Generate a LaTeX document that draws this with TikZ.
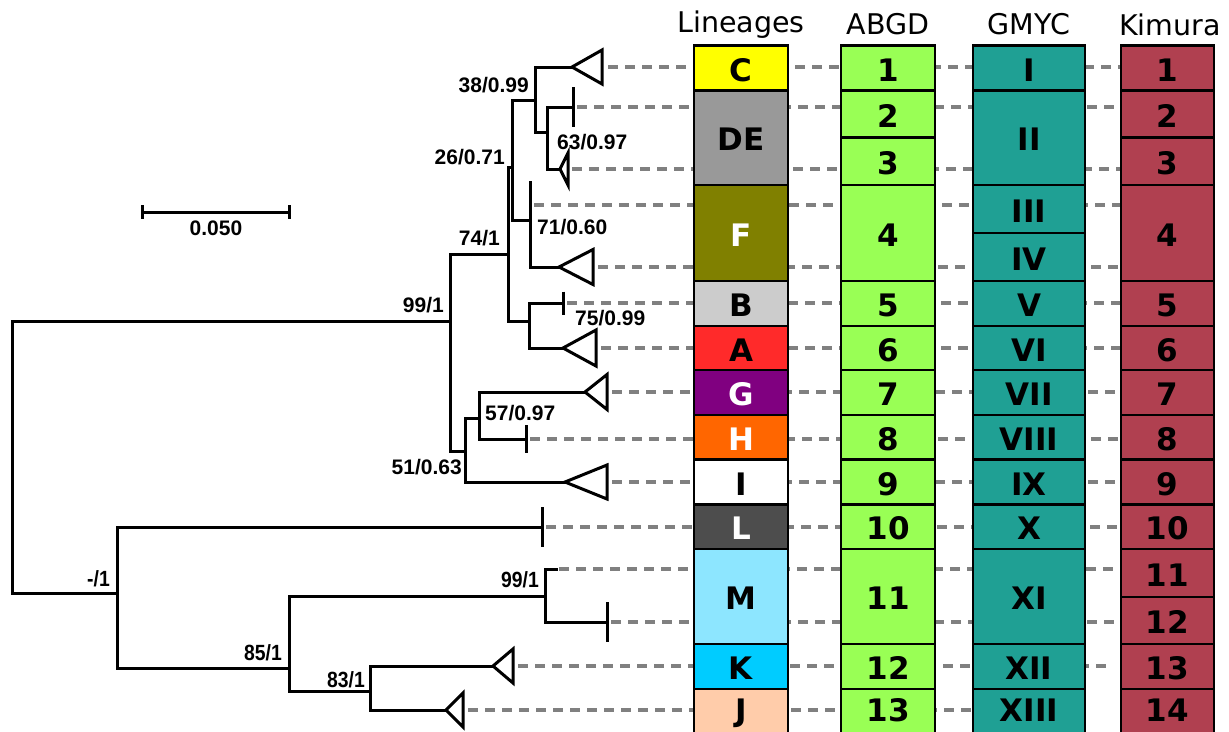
\documentclass[tikz,border=0pt]{standalone}
\usepackage{fontspec}
\setmainfont{DejaVu Sans}
\newfontfamily\arl{Liberation Sans}
\definecolor{cC}{HTML}{FFFF00}
\definecolor{cDE}{HTML}{999999}
\definecolor{cF}{HTML}{808000}
\definecolor{cB}{HTML}{CCCCCC}
\definecolor{cA}{HTML}{FF2A2A}
\definecolor{cG}{HTML}{800080}
\definecolor{cH}{HTML}{FF6600}
\definecolor{cI}{HTML}{FFFFFF}
\definecolor{cL}{HTML}{4D4D4D}
\definecolor{cM}{HTML}{8DE6FF}
\definecolor{cK}{HTML}{00CCFF}
\definecolor{cJ}{HTML}{FFCCAA}
\definecolor{cAB}{HTML}{99FF55}
\definecolor{cGM}{HTML}{1FA094}
\definecolor{cKi}{HTML}{B04050}
\definecolor{dashgray}{HTML}{808080}
\tikzset{
 br/.style={line width=3pt, line cap=rect, line join=miter},
 tk/.style={line width=3pt},
 tri/.style={line width=3pt, line join=miter},
 dsh/.style={draw=dashgray, line width=4pt, dash pattern=on 10pt off 7pt},
 cell/.style={draw=black, line width=2.5pt, inner sep=0pt, text height=26pt, text depth=0pt, font=\fontsize{31}{31}\selectfont\bfseries},
 lastrow/.style={text depth=10pt},
 hdr/.style={anchor=base, inner sep=0pt, font=\fontsize{28.5}{29}\selectfont},
 bs/.style={inner sep=0pt, font=\arl\bfseries\fontsize{21}{21}\selectfont},
 bsn/.style={inner sep=0pt, font=\arl\bfseries\fontsize{22}{22}\selectfont},
}
\newcommand\mkcell[8]{\node[cell, fill=#6, text=#7, minimum width=#3pt, minimum height={#5-#4}] (#1) at (#2,{(#4+#5)/2}) {#8};}
\newcommand\leaftri[3]{\draw[tri] (#1) -- ++(#2,#3) -- ++(0,{-2*#3}) -- cycle;}
\begin{document}
\begin{tikzpicture}[x=1pt,y=-1pt]
\useasboundingbox (0,0) rectangle (1229,731);
% tree coordinates
\coordinate (root) at (12,457);
\coordinate (N99) at (450,321);
\coordinate (N74) at (508,254);
\coordinate (N26) at (512,167);
\coordinate (N38) at (535,100);
\coordinate (C) at (572,67);
\coordinate (N63) at (547,132);
\coordinate (DE1) at (573,107);
\coordinate (DE2) at (560,169);
\coordinate (N71) at (530,220);
\coordinate (F1) at (530,205);
\coordinate (F2) at (559,267);
\coordinate (N75) at (529,321);
\coordinate (B) at (563,303);
\coordinate (A) at (563,348);
\coordinate (N51) at (465,451);
\coordinate (N57) at (479,418);
\coordinate (G) at (585,392);
\coordinate (H) at (526,439);
\coordinate (I) at (565,482);
\coordinate (N1) at (117,593);
\coordinate (L) at (542,527);
\coordinate (N85) at (289,668);
\coordinate (N99b) at (545,596);
\coordinate (M1) at (556,569);
\coordinate (M2) at (607,622);
\coordinate (N83) at (370,691);
\coordinate (K) at (493,666);
\coordinate (J) at (446,710);
\coordinate (kim) at (1121,0);
\coordinate (kimK) at (1112,0);
\coordinate (gmy) at (973,0);
% dashed guide lines
\draw[dsh] ([xshift=36pt]C) -- (C -| kim);
\draw[dsh] ([xshift=4pt]DE1) -- (DE1 -| kim);
\draw[dsh] ([xshift=12pt]DE2) -- (DE2 -| kim);
\draw[dsh] ([xshift=4pt]F1) -- (F1 -| kim);
\draw[dsh] ([xshift=39pt]F2) -- (F2 -| kim);
\draw[dsh] ([xshift=4pt]B) -- (B -| kim);
\draw[dsh] ([xshift=38pt]A) -- (A -| kim);
\draw[dsh] ([xshift=27pt]G) -- (G -| kim);
\draw[dsh] ([xshift=4pt]H) -- (H -| kim);
\draw[dsh] ([xshift=47pt]I) -- (I -| kim);
\draw[dsh] ([xshift=4pt]L) -- (L -| kim);
\draw[dsh] ([xshift=3pt]M1) -- (M1 -| kim);
\draw[dsh] ([xshift=4pt]M2) -- (M2 -| kim);
\draw[dsh] ([xshift=25pt]K) -- (K -| kimK);
\draw[dsh] ([xshift=22pt]J) -- (J -| gmy);
% tree edges
\draw[br] (root) |- (N99);
\draw[br] (root) |- (N1);
\draw[br] (N99) |- (N74);
\draw[br] (N99) |- (N51);
\draw[br] (N74) |- (N26);
\draw[br] (N74) |- (N75);
\draw[br] (N26) |- (N38);
\draw[br] (N26) |- (N71);
\draw[br] (N38) |- (C);
\draw[br] (N38) |- (N63);
\draw[br] (N63) |- (DE1);
\draw[br] (N63) |- (DE2);
\draw[br] (N71) |- (F2);
\draw[br] (N75) |- (B);
\draw[br] (N75) |- (A);
\draw[br] (N51) |- (N57);
\draw[br] (N51) |- (I);
\draw[br] (N57) |- (G);
\draw[br] (N57) |- (H);
\draw[br] (N1) |- (L);
\draw[br] (N1) |- (N85);
\draw[br] (N85) |- (N99b);
\draw[br] (N85) |- (N83);
\draw[br] (N99b) |- (M1);
\draw[br] (N99b) |- (M2);
\draw[br] (N83) |- (K);
\draw[br] (N83) |- (J);
% leaf ticks
\draw[tk] ([yshift=20pt]DE1) -- ([yshift=-20pt]DE1);
\draw[tk] ([yshift=24pt]F1) -- ([yshift=-24pt]F1);
\draw[tk] ([yshift=11.5pt]B) -- ([yshift=-11.5pt]B);
\draw[tk] ([yshift=14pt]H) -- ([yshift=-14pt]H);
\draw[tk] ([yshift=20pt]L) -- ([yshift=-20pt]L);
\draw[tk] ([yshift=20pt]M2) -- ([yshift=-20pt]M2);
% collapsed clades
\leaftri{C}{30}{17}
\leaftri{DE2}{8}{16}
\leaftri{F2}{34}{17.5}
\leaftri{A}{33}{18}
\leaftri{G}{22}{17.5}
\leaftri{I}{42}{17}
\leaftri{K}{20}{17}
\leaftri{J}{17}{17}
% support labels
\node[bs, anchor=base east] (l38) at (529,92) {38/0.99};
\node[bs, anchor=base east] (l26) at (505,164.5) {26/0.71};
\node[bs, anchor=base east] (l74) at (500,245.5) {74/1};
\node[bs, anchor=base east] (l99) at (444,312.5) {99/1};
\node[bs, anchor=base west] (l63) at (557,149.5) {63/0.97};
\node[bs, anchor=base west] (l71) at (537,234.5) {71/0.60};
\node[bs, anchor=base west] (l75) at (575,325.5) {75/0.99};
\node[bs, anchor=base west] (l57) at (485,420.5) {57/0.97};
\node[bs, anchor=base east] (l51) at (462,474.5) {51/0.63};
\node[bsn, anchor=base east] (lm1) at (110,586) {\scalebox{0.88}[1]{-/1}};
\node[bsn, anchor=base east] (l99b) at (539,587) {\scalebox{0.88}[1]{99/1}};
\node[bsn, anchor=base east] (l85) at (282,660) {\scalebox{0.88}[1]{85/1}};
\node[bsn, anchor=base east] (l83) at (365,687) {\scalebox{0.88}[1]{83/1}};
% scale bar
\coordinate (s1) at (142,212);
\coordinate (s2) at (289,212);
\draw[tk] (s1) -- (s2);
\draw[tk] ([yshift=7pt]s1) -- ([yshift=-7pt]s1);
\draw[tk] ([yshift=7pt]s2) -- ([yshift=-7pt]s2);
\node[bs, anchor=base] (sl) at (216,235) {0.050};
% headers
\node[hdr] (hLin) at (741,32) {Lineages};
\node[hdr] (hAB) at (888,34) {ABGD};
\node[hdr] (hGM) at (1029,34) {GMYC};
\node[hdr] (hKi) at (1170,35) {Kimura};
% Lineages column
\mkcell{lC}{741}{94}{45.5}{90.5}{cC}{black}{C}
\mkcell{lDE}{741}{94}{90.5}{185}{cDE}{black}{DE}
\mkcell{lF}{741}{94}{185}{281}{cF}{white}{F}
\mkcell{lB}{741}{94}{281}{326}{cB}{black}{B}
\mkcell{lA}{741}{94}{326}{370}{cA}{black}{A}
\mkcell{lG}{741}{94}{370}{415}{cG}{white}{G}
\mkcell{lH}{741}{94}{415}{459.5}{cH}{white}{H}
\mkcell{lI}{741}{94}{459.5}{504.5}{cI}{black}{I}
\mkcell{lL}{741}{94}{504.5}{549}{cL}{white}{L}
\mkcell{lM}{741}{94}{549}{644}{cM}{black}{M}
\mkcell{lK}{741}{94}{644}{689}{cK}{black}{K}
\mkcell{lJ}{741}{94}{689}{738}{cJ, lastrow}{black}{J}
% ABGD column
\mkcell{a1}{888}{94}{45.5}{90.5}{cAB}{black}{1}
\mkcell{a2}{888}{94}{90.5}{137.7}{cAB}{black}{2}
\mkcell{a3}{888}{94}{137.7}{185}{cAB}{black}{3}
\mkcell{a4}{888}{94}{185}{281}{cAB}{black}{4}
\mkcell{a5}{888}{94}{281}{326}{cAB}{black}{5}
\mkcell{a6}{888}{94}{326}{370}{cAB}{black}{6}
\mkcell{a7}{888}{94}{370}{415}{cAB}{black}{7}
\mkcell{a8}{888}{94}{415}{459.5}{cAB}{black}{8}
\mkcell{a9}{888}{94}{459.5}{504.5}{cAB}{black}{9}
\mkcell{a10}{888}{94}{504.5}{549}{cAB}{black}{10}
\mkcell{a11}{888}{94}{549}{644}{cAB}{black}{11}
\mkcell{a12}{888}{94}{644}{689}{cAB}{black}{12}
\mkcell{a13}{888}{94}{689}{738}{cAB, lastrow}{black}{13}
% GMYC column
\mkcell{g1}{1029}{112}{45.5}{90.5}{cGM}{black}{I}
\mkcell{g2}{1029}{112}{90.5}{185}{cGM}{black}{II}
\mkcell{g3}{1029}{112}{185}{233}{cGM}{black}{III}
\mkcell{g4}{1029}{112}{233}{281}{cGM}{black}{IV}
\mkcell{g5}{1029}{112}{281}{326}{cGM}{black}{V}
\mkcell{g6}{1029}{112}{326}{370}{cGM}{black}{VI}
\mkcell{g7}{1029}{112}{370}{415}{cGM}{black}{VII}
\mkcell{g8}{1029}{112}{415}{459.5}{cGM}{black}{VIII}
\mkcell{g9}{1029}{112}{459.5}{504.5}{cGM}{black}{IX}
\mkcell{g10}{1029}{112}{504.5}{549}{cGM}{black}{X}
\mkcell{g11}{1029}{112}{549}{644}{cGM}{black}{XI}
\mkcell{g12}{1029}{112}{644}{689}{cGM}{black}{XII}
\mkcell{g13}{1029}{112}{689}{738}{cGM, lastrow}{black}{XIII}
% Kimura column
\mkcell{k1}{1167.5}{93}{45.5}{90.5}{cKi}{black}{1}
\mkcell{k2}{1167.5}{93}{90.5}{137.7}{cKi}{black}{2}
\mkcell{k3}{1167.5}{93}{137.7}{185}{cKi}{black}{3}
\mkcell{k4}{1167.5}{93}{185}{281}{cKi}{black}{4}
\mkcell{k5}{1167.5}{93}{281}{326}{cKi}{black}{5}
\mkcell{k6}{1167.5}{93}{326}{370}{cKi}{black}{6}
\mkcell{k7}{1167.5}{93}{370}{415}{cKi}{black}{7}
\mkcell{k8}{1167.5}{93}{415}{459.5}{cKi}{black}{8}
\mkcell{k9}{1167.5}{93}{459.5}{504.5}{cKi}{black}{9}
\mkcell{k10}{1167.5}{93}{504.5}{549}{cKi}{black}{10}
\mkcell{k11}{1167.5}{93}{549}{597}{cKi}{black}{11}
\mkcell{k12}{1167.5}{93}{597}{644}{cKi}{black}{12}
\mkcell{k13}{1167.5}{93}{644}{689}{cKi}{black}{13}
\mkcell{k14}{1167.5}{93}{689}{738}{cKi, lastrow}{black}{14}
\end{tikzpicture}
\end{document}
